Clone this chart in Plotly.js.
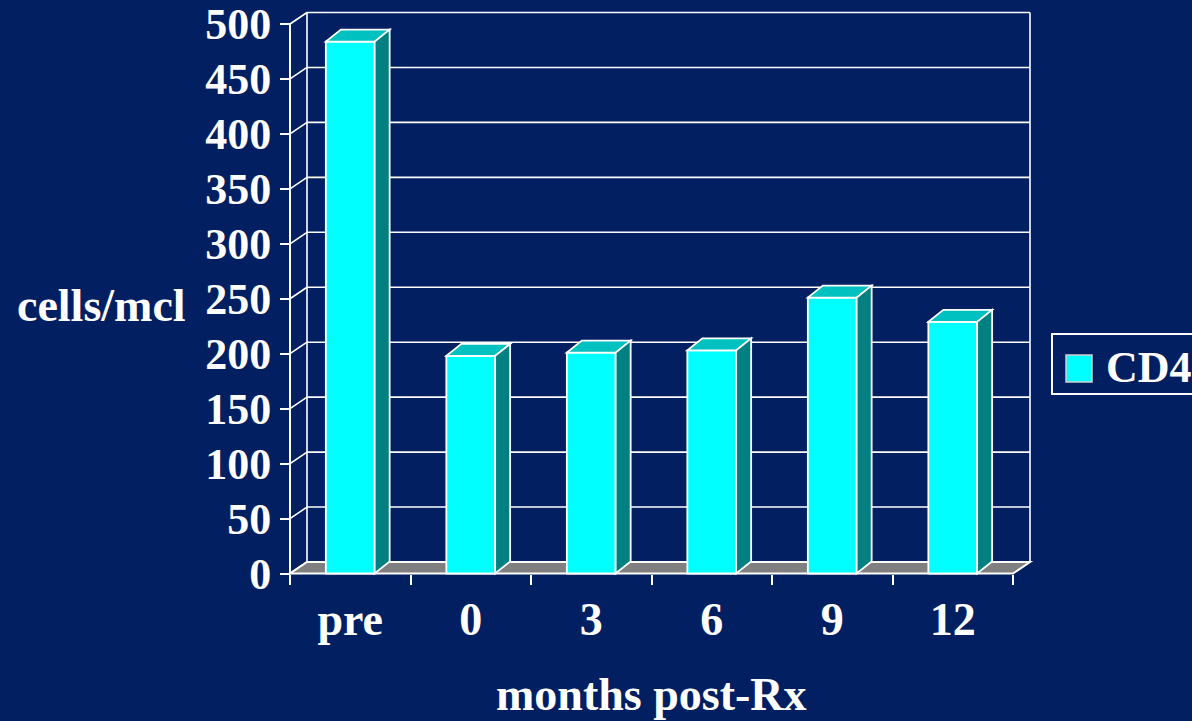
<!DOCTYPE html>
<html>
<head>
<meta charset="utf-8">
<script src="https://cdn.plot.ly/plotly-3.0.1.min.js"></script>
<style>
  html, body { margin: 0; padding: 0; background: #022061; }
  #chart { width: 1192px; height: 721px; }
</style>
</head>
<body>
<div id="chart"></div>
<script>
// ---- data ----
const categories = ['pre', '0', '3', '6', '9', '12'];
const cd4 = [484, 198, 201, 203, 251, 229];
const yTickVals = [0, 50, 100, 150, 200, 250, 300, 350, 400, 450, 500];
const yTickText = ['0', '50', '100', '150', '200', '250', '300', '350', '400', '450', '500'];
const seriesName = 'CD4';
const xTitle = 'months post-Rx';
const yTitle = 'cells/mcl';

// ---- layout constants (pixels) ----
const W = 1192, H = 721;
const X0PX = 290;        // front-left corner of the chart box
const CATPX = 120.5;     // pixels per category
const Y0PX = 573.5;      // pixel of value 0 on the front plane
const PXPERUNIT = 1.099; // pixels per value unit
const BG = '#022061';
const FAMILY = '"Liberation Serif", "Times New Roman", serif';
const FONT = {family: FAMILY, size: 46, color: '#ffffff', weight: 'bold'};
const TICKFONT = {family: FAMILY, size: 44, color: '#ffffff', weight: 'bold'};

const xIdx = categories.map((c, i) => i);
const xMin = -0.5 - X0PX / CATPX;
const xMax = xMin + W / CATPX;
const yMin = -(H - Y0PX) / PXPERUNIT;
const yMax = yMin + H / PXPERUNIT;

// 3D offsets (data units)
const WDX = 17 / CATPX, WDY = 11.5 / PXPERUNIT;   // back wall depth
const BDX = 15 / CATPX, BDY = 12 / PXPERUNIT;     // bar depth
const BAR_W = 0.405;
const xLeft = -0.5, xRight = categories.length - 0.5;
const yTop = yTickVals[yTickVals.length - 1];
const boundaries = categories.map((c, i) => i - 0.5).concat([xRight]);

const px = p => p / W;
const py = p => 1 - p / H;

const shapes = [];
const WHITE = '#ffffff';

// back wall gridlines + side-wall diagonals
yTickVals.forEach(v => {
  shapes.push({type: 'line', xref: 'x', yref: 'y', layer: 'below',
    x0: xLeft + WDX, y0: v + WDY, x1: xRight + WDX, y1: v + WDY,
    line: {color: WHITE, width: 1.6}});
  shapes.push({type: 'line', xref: 'x', yref: 'y', layer: 'below',
    x0: xLeft, y0: v, x1: xLeft + WDX, y1: v + WDY,
    line: {color: WHITE, width: 1.6}});
});
// back wall vertical edges
[xLeft + WDX, xRight + WDX].forEach(xv => {
  shapes.push({type: 'line', xref: 'x', yref: 'y', layer: 'below',
    x0: xv, y0: WDY, x1: xv, y1: yTop + WDY, line: {color: WHITE, width: 1.6}});
});
// floor
shapes.push({type: 'path', xref: 'x', yref: 'y', layer: 'below',
  path: `M ${xLeft},0 L ${xRight},0 L ${xRight + WDX},${WDY} L ${xLeft + WDX},${WDY} Z`,
  fillcolor: '#808080', line: {color: WHITE, width: 2}});
// front y axis line
shapes.push({type: 'line', xref: 'x', yref: 'y', layer: 'above',
  x0: xLeft, y0: 0, x1: xLeft, y1: yTop, line: {color: WHITE, width: 2}});

// bar tops and sides
xIdx.forEach((xi, i) => {
  const v = cd4[i];
  const a = xi - BAR_W / 2, b = xi + BAR_W / 2;
  shapes.push({type: 'path', xref: 'x', yref: 'y', layer: 'above',
    path: `M ${a},${v} L ${b},${v} L ${b + BDX},${v + BDY} L ${a + BDX},${v + BDY} Z`,
    fillcolor: '#00C0C0', line: {color: WHITE, width: 1.8}});
  shapes.push({type: 'path', xref: 'x', yref: 'y', layer: 'above',
    path: `M ${b},0 L ${b},${v} L ${b + BDX},${v + BDY} L ${b + BDX},${BDY} Z`,
    fillcolor: '#008080', line: {color: WHITE, width: 1.8}});
});

// legend (drawn manually so the swatch matches the large style)
shapes.push({type: 'rect', xref: 'paper', yref: 'paper', layer: 'above',
  x0: px(1052), x1: px(1215), y0: py(334), y1: py(394),
  fillcolor: 'rgba(0,0,0,0)', line: {color: WHITE, width: 2}});
shapes.push({type: 'rect', xref: 'paper', yref: 'paper', layer: 'above',
  x0: px(1066), x1: px(1092), y0: py(355), y1: py(382),
  fillcolor: '#00FFFF', line: {color: '#d0d0d0', width: 1.5}});

const annotations = [
  {text: seriesName, xref: 'paper', yref: 'paper', x: px(1104), y: py(367),
   xanchor: 'left', yanchor: 'middle', showarrow: false, font: TICKFONT},
  {text: yTitle, xref: 'paper', yref: 'paper', x: px(101), y: py(305),
   xanchor: 'center', yanchor: 'middle', showarrow: false, font: FONT},
  {text: xTitle, xref: 'paper', yref: 'paper', x: px(651), y: py(694),
   xanchor: 'center', yanchor: 'middle', showarrow: false, font: FONT}
];

const traces = [
  {type: 'bar', x: xIdx, y: cd4, width: BAR_W, name: seriesName,
   marker: {color: '#00FFFF', line: {color: WHITE, width: 1.8}},
   xaxis: 'x', yaxis: 'y', showlegend: false, hoverinfo: 'skip'},
  {type: 'scatter', x: [], y: [], xaxis: 'x2', yaxis: 'y', showlegend: false, hoverinfo: 'skip'}
];

const layout = {
  width: W, height: H,
  margin: {l: 0, r: 0, t: 0, b: 0, pad: 0},
  paper_bgcolor: BG, plot_bgcolor: BG,
  showlegend: false,
  xaxis: {range: [xMin, xMax], anchor: 'free', position: (H - Y0PX) / H,
    tickmode: 'array', tickvals: xIdx, ticktext: categories, ticks: '',
    showgrid: false, zeroline: false, showline: false, tickfont: FONT,
    ticklabelstandoff: 14, fixedrange: true},
  xaxis2: {range: [xMin, xMax], overlaying: 'x', anchor: 'free', position: (H - Y0PX) / H,
    tickmode: 'array', tickvals: boundaries, ticks: 'outside', ticklen: 10, tickwidth: 2,
    tickcolor: WHITE, showticklabels: false, showgrid: false, zeroline: false, showline: false,
    fixedrange: true},
  yaxis: {range: [yMin, yMax], anchor: 'free', position: X0PX / W,
    tickmode: 'array', tickvals: yTickVals, ticktext: yTickText, ticks: 'outside',
    ticklen: 10, tickwidth: 2, tickcolor: WHITE, showgrid: false, zeroline: false,
    showline: false, tickfont: TICKFONT, fixedrange: true},
  shapes: shapes,
  annotations: annotations
};

Plotly.newPlot('chart', traces, layout, {displayModeBar: false, staticPlot: true});
</script>
</body>
</html>
